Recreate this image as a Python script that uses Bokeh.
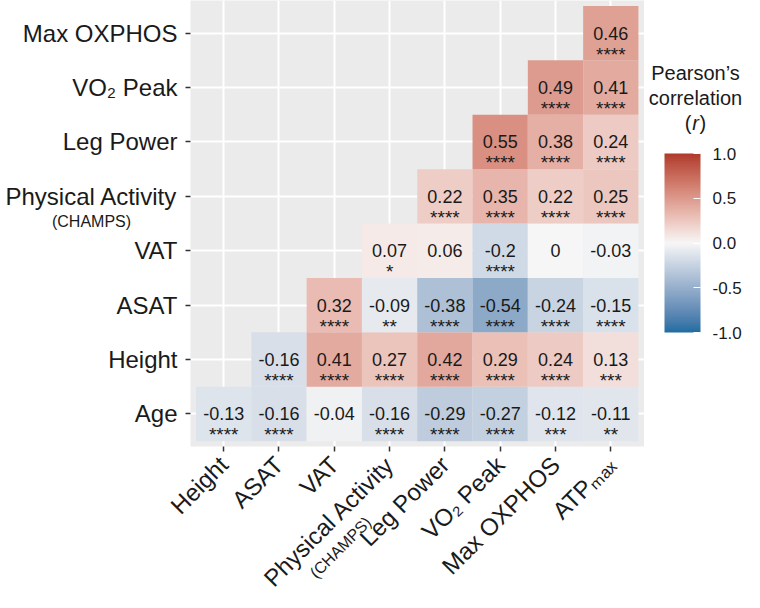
import numpy as np
from math import pi
from bokeh.plotting import figure
from bokeh.models import (ColumnDataSource, LinearColorMapper, ColorBar, FixedTicker,
                          Label, PrintfTickFormatter)
from bokeh.transform import transform
from bokeh.embed import file_html
from bokeh.resources import INLINE
from bokeh.core.properties import value

# ---------------- data ----------------
x_labels = ["Height", "ASAT", "VAT", "Physical Activity", "Leg Power",
            "VO₂ Peak", "Max OXPHOS", "ATPₘₐₓ"]
y_labels = ["Age", "Height", "ASAT", "VAT", "Physical Activity", "Leg Power",
            "VO₂ Peak", "Max OXPHOS"]
sub_label = "(CHAMPS)"          # second line of the "Physical Activity" labels

# each row holds the correlations with the LAST len(row) columns
r_age = [-0.13, -0.16, -0.04, -0.16, -0.29, -0.27, -0.12, -0.11]
s_age = ["****", "****", "", "****", "****", "****", "***", "**"]
r_height = [-0.16, 0.41, 0.27, 0.42, 0.29, 0.24, 0.13]
s_height = ["****", "****", "****", "****", "****", "****", "***"]
r_asat = [0.32, -0.09, -0.38, -0.54, -0.24, -0.15]
s_asat = ["****", "**", "****", "****", "****", "****"]
r_vat = [0.07, 0.06, -0.2, 0, -0.03]
s_vat = ["*", "", "****", "", ""]
r_pa = [0.22, 0.35, 0.22, 0.25]
s_pa = ["****", "****", "****", "****"]
r_lp = [0.55, 0.38, 0.24]
s_lp = ["****", "****", "****"]
r_vo2 = [0.49, 0.41]
s_vo2 = ["****", "****"]
r_maxox = [0.46]
s_maxox = ["****"]

rows_r = [r_age, r_height, r_asat, r_vat, r_pa, r_lp, r_vo2, r_maxox]
rows_s = [s_age, s_height, s_asat, s_vat, s_pa, s_lp, s_vo2, s_maxox]

legend_ticks = [-1.0, -0.5, 0.0, 0.5, 1.0]
legend_title = ["Pearson’s", "correlation"]

# ---------------- styles / layout ----------------
FONT = "Liberation Sans"
LOW, MID, HIGH = "#1F6DA2", "#F7F7F7", "#B03A2E"
TXT = "#1a1a1a"
PANEL = "#EBEBEB"

W, H = 744, 592
UX, UY = 55.3, 54.4            # pixels per category
PAN_L, PAN_R = -0.6, 7.6       # panel extent (data units)
PAN_B, PAN_T = -0.6, 7.6
LEFT_PX = 190                  # panel left edge in px

x0 = PAN_L - LEFT_PX / UX
y1 = PAN_T                     # panel top at the canvas top
y0 = y1 - H / UY


def hex_to_rgb(h):
    h = h.lstrip("#")
    return np.array([int(h[i:i + 2], 16) for i in (0, 2, 4)], float) / 255.0


M = np.array([[0.4124, 0.3576, 0.1805], [0.2126, 0.7152, 0.0722], [0.0193, 0.1192, 0.9505]])
WHITE = np.array([0.95047, 1.0, 1.08883])


def rgb_to_lab(c):
    lin = np.where(c <= 0.04045, c / 12.92, ((c + 0.055) / 1.055) ** 2.4)
    xyz = M @ lin / WHITE
    d = 6 / 29
    f = np.where(xyz > d ** 3, np.cbrt(xyz), xyz / (3 * d * d) + 4 / 29)
    return np.array([116 * f[1] - 16, 500 * (f[0] - f[1]), 200 * (f[1] - f[2])])


def lab_to_hex(lab):
    L, a, b = lab
    fy = (L + 16) / 116
    f = np.array([fy + a / 500, fy, fy - b / 200])
    d = 6 / 29
    xyz = np.where(f > d, f ** 3, 3 * d * d * (f - 4 / 29)) * WHITE
    lin = np.clip(np.linalg.solve(M, xyz), 0, 1)
    c = np.where(lin <= 0.0031308, 12.92 * lin, 1.055 * lin ** (1 / 2.4) - 0.055)
    c = np.clip(np.round(c * 255), 0, 255).astype(int)
    return "#%02x%02x%02x" % tuple(c)


lab_lo, lab_mid, lab_hi = (rgb_to_lab(hex_to_rgb(h)) for h in (LOW, MID, HIGH))
palette = []
N = 256
for k in range(N):
    t = k / (N - 1) * 2 - 1
    lab = lab_mid + ((lab_lo - lab_mid) * (-t) if t < 0 else (lab_hi - lab_mid) * t)
    palette.append(lab_to_hex(lab))

# ---------------- cells ----------------
cx, cy, cr, clab, cstar = [], [], [], [], []
for i, (vals, st) in enumerate(zip(rows_r, rows_s)):
    start = len(x_labels) - len(vals)
    for j, (v, s) in enumerate(zip(vals, st)):
        cx.append(start + j)
        cy.append(i)
        cr.append(v)
        clab.append("%g" % v)
        cstar.append(s)

src = ColumnDataSource(dict(x=cx, y=cy, r=cr, lab=clab, star=cstar))
mapper = LinearColorMapper(palette=palette, low=-1, high=1)

p = figure(width=W, height=H, x_range=(x0, x0 + W / UX), y_range=(y0, y1),
           output_backend="svg", toolbar_location=None,
           min_border_left=0, min_border_right=0, min_border_top=0, min_border_bottom=0)
p.background_fill_color = "white"
p.border_fill_color = "white"
p.outline_line_color = None

# grey panel behind the tiles
p.quad(left=[PAN_L], right=[PAN_R], bottom=[PAN_B], top=[PAN_T + 1],
       fill_color=PANEL, line_color=None, level="image")

p.rect(x="x", y="y", width=1, height=1, source=src,
       fill_color=transform("r", mapper), line_color=None)
p.text(x="x", y="y", text="lab", source=src, text_font=value(FONT), text_font_size="18px",
       text_align="center", text_baseline="middle", text_color=TXT)
p.text(x="x", y="y", text="star", source=src, text_font=value(FONT), text_font_size="19px",
       text_align="center", text_baseline="middle", text_color=TXT, y_offset=21)

for ax, labels in ((p.xaxis, x_labels), (p.yaxis, y_labels)):
    ax.ticker = FixedTicker(ticks=list(range(len(labels))))
    ax.major_label_overrides = {i: lab for i, lab in enumerate(labels)}
    ax.major_label_text_font = FONT
    ax.major_label_text_font_size = "24px"
    ax.major_label_text_color = TXT
    ax.axis_line_color = None
    ax.minor_tick_line_color = None
    ax.major_tick_in = 0
    ax.major_tick_out = 5
    ax.major_tick_line_color = "#333333"
    ax.major_tick_line_width = 1.5
p.yaxis.major_label_standoff = 8
p.xaxis.major_label_standoff = 9
p.xaxis.major_label_orientation = pi / 4
p.yaxis.fixed_location = PAN_L
p.xaxis.fixed_location = PAN_B

p.xgrid.ticker = FixedTicker(ticks=list(range(len(x_labels))))
p.ygrid.ticker = FixedTicker(ticks=list(range(len(y_labels))))
p.grid.grid_line_color = "white"
p.grid.grid_line_width = 2

# secondary line of "Physical Activity" labels (screen px from canvas bottom-left)
p.add_layout(Label(x=91, y=371, x_units="screen", y_units="screen", text=sub_label,
                   text_font=FONT, text_font_size="16px", text_color=TXT,
                   text_align="center", text_baseline="middle"))
p.add_layout(Label(x=340, y=45, x_units="screen", y_units="screen", text=sub_label,
                   angle=pi / 4, text_font=FONT, text_font_size="16px", text_color=TXT,
                   text_align="center", text_baseline="middle"))

# legend title
for txt, yy in zip(legend_title, (520, 495)):
    p.add_layout(Label(x=695, y=yy, x_units="screen", y_units="screen", text=txt,
                       text_font=FONT, text_font_size="20px", text_color=TXT,
                       text_align="center", text_baseline="middle"))
for txt, xx, al, st in (("(", 691, "right", "normal"), ("r", 695, "center", "italic"),
                        (")", 699, "left", "normal")):
    p.add_layout(Label(x=xx, y=470, x_units="screen", y_units="screen", text=txt,
                       text_font=FONT, text_font_size="20px", text_color=TXT,
                       text_align=al, text_baseline="middle", text_font_style=st))

cb = ColorBar(color_mapper=mapper, ticker=FixedTicker(ticks=legend_ticks),
              formatter=PrintfTickFormatter(format="%.1f"),
              width=36, height=179, location=(664, 260), padding=0, margin=0,
              bar_line_color=None, border_line_color=None, background_fill_color=None,
              major_label_text_font=FONT, major_label_text_font_size="17px",
              major_label_text_color=TXT, label_standoff=12,
              major_tick_line_color="white", major_tick_in=7, major_tick_out=0,
              minor_tick_line_color=None)
p.add_layout(cb, "center")

open("out.html", "w").write(file_html(p, INLINE))
